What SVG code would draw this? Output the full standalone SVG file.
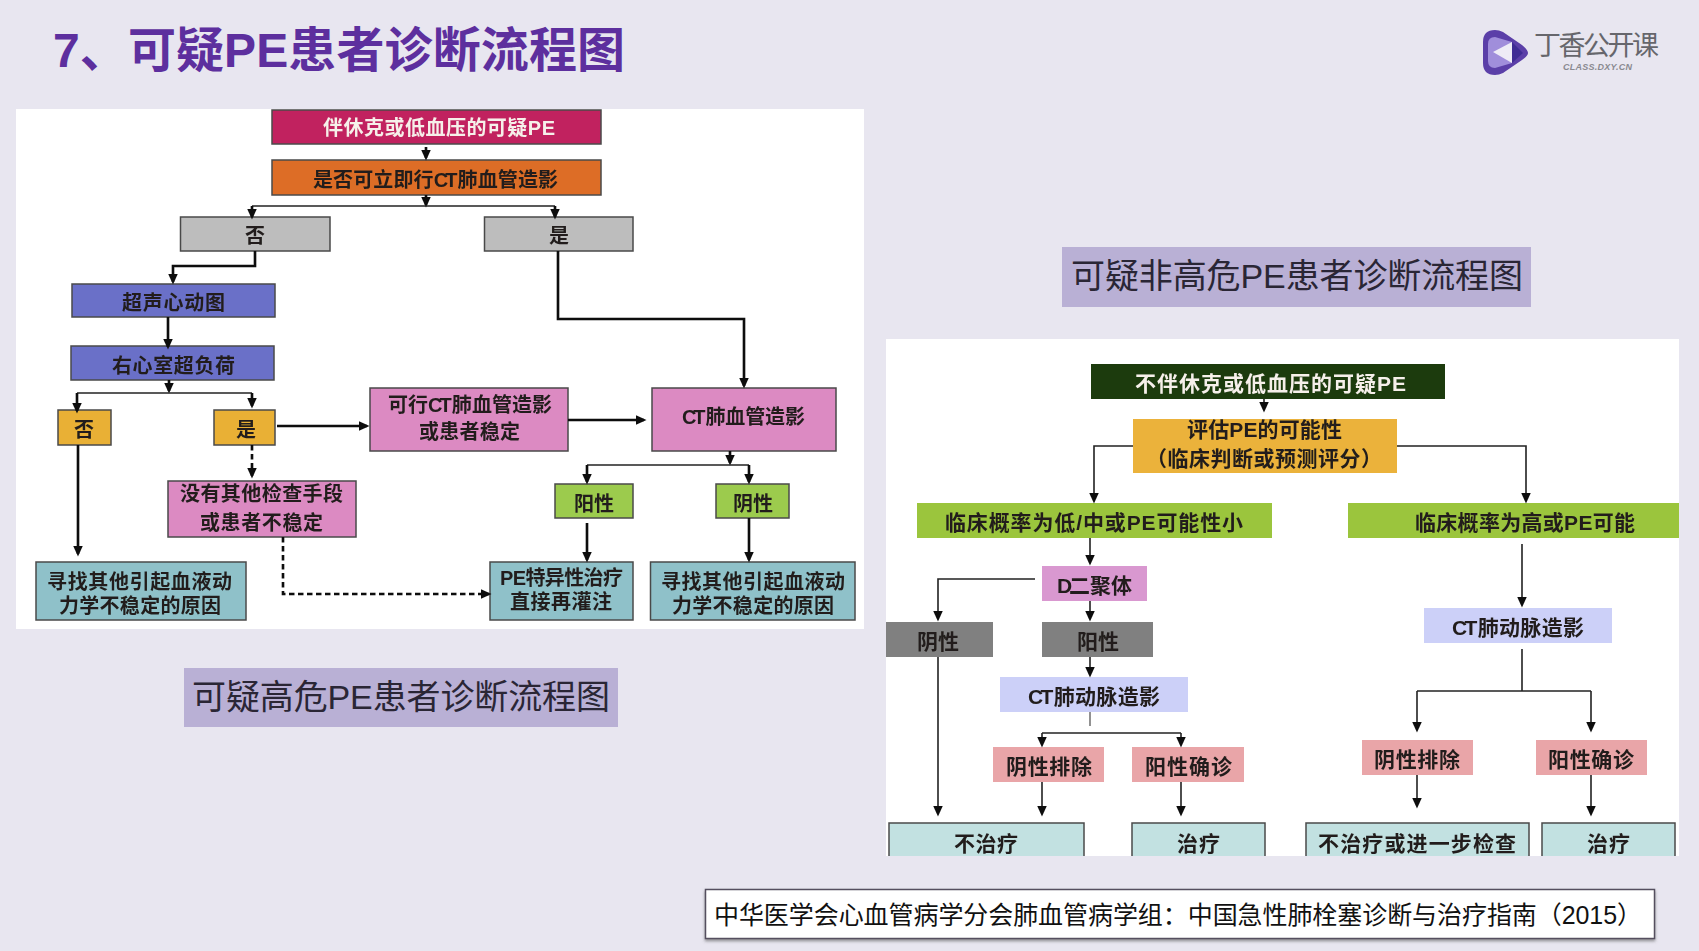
<svg xmlns="http://www.w3.org/2000/svg" width="1699" height="951" viewBox="0 0 1699 951">
<style>
text{font-family:"Liberation Sans","Noto Sans CJK SC","Noto Sans",sans-serif;fill:#221f1c;font-weight:700;font-size:20px}
.r text{font-size:21px}
.w{fill:#f6f0ea}
.cap{font-weight:400;font-size:34px;fill:#2a2635}
.box{stroke:#4a4a4a;stroke-width:1.5}
.c{fill:none;stroke:#111;stroke-width:2.6}
.t{fill:none;stroke:#222;stroke-width:1.6}
.d{fill:none;stroke:#111;stroke-width:2.6;stroke-dasharray:5.500 3.500}
.a{marker-end:url(#h)}
.ct{letter-spacing:-3px}
</style>
<defs>
<marker id="h" markerUnits="userSpaceOnUse" markerWidth="11" markerHeight="11" viewBox="0 0 11 11" refX="8.500" refY="5.500" orient="auto"><path d="M0 0.500L11 5.500L0 10.500Z" fill="#111"/></marker>
<filter id="soft" x="-2%" y="-2%" width="104%" height="104%"><feGaussianBlur stdDeviation="0.45"/></filter>
<filter id="sh" x="-2%" y="-10%" width="104%" height="125%"><feDropShadow dx="0" dy="2" stdDeviation="1.500" flood-color="#555" flood-opacity="0.6"/></filter>
</defs>
<rect width="1699" height="951" fill="#e8e6f0"/>
<text x="53" y="67" style="font-size:48px;fill:#5d2f9e" textLength="572">7、可疑PE患者诊断流程图</text>

<g id="logo">
<path d="M1483 42Q1483 30 1495 30Q1499 30 1503 32L1522 45Q1528 50 1528 53Q1528 56 1522 60L1503 73Q1499 75 1495 75Q1483 75 1483 63Z" fill="#5b3fa8"/>
<path d="M1488 44Q1488 37 1495 37L1512 42V63L1495 68Q1488 68 1488 61Z" fill="#a08edb"/>
<path d="M1512 42V63L1523 53Z" fill="#3f2c94"/>
<path d="M1493 52L1512 42V63Z" fill="#eeecf6"/>
<text x="1534" y="55" textLength="125" style="font-size:27px;font-weight:400;fill:#66666c">丁香公开课</text>
<text x="1563" y="70" textLength="69" style="font-size:9px;font-style:italic;fill:#8a8a90">CLASS.DXY.CN</text>
</g>

<rect id="panel-left" x="16" y="109" width="848" height="520" fill="#fff"/>
<rect id="panel-right" x="886" y="339" width="793" height="517" fill="#fff"/>

<g filter="url(#soft)">
<g id="left-nodes">
<g id="l1"><rect class="box" x="272" y="110" width="329" height="34" fill="#c1245f"/><text class="w" x="323" y="135" textLength="232">伴休克或低血压的可疑PE</text></g>
<g id="l2"><rect class="box" x="272" y="160" width="329" height="35" fill="#dd6d26"/><text x="313" y="187" textLength="245">是否可立即行<tspan class="ct">C</tspan>T肺血管造影</text></g>
<g id="l3"><rect class="box" x="180.500" y="217" width="149.500" height="34" fill="#bdbdbd"/><text x="245" y="243">否</text></g>
<g id="l4"><rect class="box" x="484.500" y="217" width="148.500" height="34" fill="#bdbdbd"/><text x="549" y="243">是</text></g>
<g id="l5"><rect class="box" x="72" y="284" width="203" height="33" fill="#6a6fc8"/><text x="122" y="310" textLength="103">超声心动图</text></g>
<g id="l6"><rect class="box" x="71" y="346" width="203" height="34" fill="#6a6fc8"/><text x="112" y="373" textLength="123">右心室超负荷</text></g>
<g id="l7"><rect class="box" x="58" y="410" width="53" height="35" fill="#e9b035"/><text x="74" y="437">否</text></g>
<g id="l8"><rect class="box" x="214" y="410" width="61" height="35" fill="#e9b035"/><text x="236" y="437">是</text></g>
<g id="l9"><rect class="box" x="168" y="481" width="188" height="56" fill="#dc8ac2"/><text x="180" y="501" textLength="163">没有其他检查手段</text><text x="200" y="530" textLength="123">或患者不稳定</text></g>
<g id="l10"><rect class="box" x="370" y="388" width="198" height="63" fill="#dc8ac2"/><text x="388" y="412" textLength="164">可行<tspan class="ct">C</tspan>T肺血管造影</text><text x="419" y="439" textLength="101">或患者稳定</text></g>
<g id="l11"><rect class="box" x="652" y="388" width="184" height="63" fill="#dc8ac2"/><text x="682" y="424" textLength="123"><tspan class="ct">C</tspan>T肺血管造影</text></g>
<g id="l12"><rect class="box" x="555" y="484" width="78" height="34" fill="#9ccb4e"/><text x="574" y="511" textLength="40">阳性</text></g>
<g id="l13"><rect class="box" x="716" y="484" width="73" height="34" fill="#9ccb4e"/><text x="733" y="511" textLength="40">阴性</text></g>
<g id="l14"><rect class="box" x="36" y="562" width="210" height="58" fill="#8fc1c9"/><text x="47" y="589" textLength="185">寻找其他引起血液动</text><text x="59" y="613" textLength="162">力学不稳定的原因</text></g>
<g id="l15"><rect class="box" x="490" y="562" width="143" height="58" fill="#8fc1c9"/><text x="500" y="585" textLength="123">PE特异性治疗</text><text x="510" y="609" textLength="102">直接再灌注</text></g>
<g id="l16"><rect class="box" x="650.500" y="562" width="204.500" height="58" fill="#8fc1c9"/><text x="661" y="589" textLength="184">寻找其他引起血液动</text><text x="672" y="613" textLength="162">力学不稳定的原因</text></g>
</g>
<g id="left-connectors">
<path class="c a" d="M426 147V158"/>
<path class="c a" d="M426 195V205"/>
<path class="t" d="M252 206H555"/>
<path class="c a" d="M252 206V217"/>
<path class="c a" d="M555 206V217"/>
<path class="c a" d="M255 251V266H173V282"/>
<path class="c a" d="M168 317V347"/>
<path class="c a" d="M169 380V391"/>
<path class="t" d="M77 393H252"/>
<path class="c a" d="M77 393V411"/>
<path class="c a" d="M252 393V406"/>
<path class="c a" d="M277 426H367"/>
<path class="d a" d="M252 445V476"/>
<path class="c a" d="M78 445V554"/>
<path class="d a" d="M283 537V594H489"/>
<path class="c a" d="M558 251V319H744V386"/>
<path class="c a" d="M568 420H644"/>
<path class="c a" d="M730 451V463"/>
<path class="t" d="M587 465H749"/>
<path class="c a" d="M587 465V482"/>
<path class="c a" d="M749 465V482"/>
<path class="c a" d="M587 523V560"/>
<path class="c a" d="M749 518V560"/>
</g>

<g id="right-nodes" class="r">
<g id="r1"><rect x="1091" y="364" width="354" height="35" fill="#1d3a10"/><text class="w" x="1135" y="391" textLength="271">不伴休克或低血压的可疑PE</text></g>
<g id="r2"><rect x="1133" y="419" width="264" height="54" fill="#ebb23a"/><text x="1187" y="437" textLength="155">评估PE的可能性</text><text x="1146" y="466" textLength="236">（临床判断或预测评分）</text></g>
<g id="r3"><rect x="917" y="503" width="355" height="35" fill="#9bc53d"/><text x="945" y="530" textLength="298">临床概率为低/中或PE可能性小</text></g>
<g id="r4"><rect x="1348" y="503" width="331" height="35" fill="#9bc53d"/><text x="1415" y="530" textLength="220">临床概率为高或PE可能</text></g>
<g id="r5"><rect x="1042" y="566" width="105" height="35" fill="#d998d0"/><text x="1057" y="593" textLength="75"><tspan class="ct">D</tspan>二聚体</text></g>
<g id="r6"><rect x="886" y="622" width="107" height="35" fill="#808080"/><text x="917" y="649" textLength="42">阴性</text></g>
<g id="r7"><rect x="1042" y="622" width="111" height="35" fill="#808080"/><text x="1077" y="649" textLength="42">阳性</text></g>
<g id="r8"><rect x="1000" y="677" width="188" height="35" fill="#ccd0f8"/><text x="1028" y="704" textLength="132"><tspan class="ct">C</tspan>T肺动脉造影</text></g>
<g id="r9"><rect x="993" y="747" width="111" height="35" fill="#e9a5a8"/><text x="1006" y="774" textLength="86">阴性排除</text></g>
<g id="r10"><rect x="1132" y="747" width="112" height="35" fill="#e9a5a8"/><text x="1145" y="774" textLength="87">阳性确诊</text></g>
<g id="r11"><path class="box" d="M889 856V823H1084V856" fill="#c2e1e1"/><text x="954" y="851" textLength="64">不治疗</text></g>
<g id="r12"><path class="box" d="M1132 856V823H1265V856" fill="#c2e1e1"/><text x="1177" y="851" textLength="43">治疗</text></g>
<g id="r13"><rect x="1424" y="608" width="188" height="35" fill="#ccd0f8"/><text x="1452" y="635" textLength="132"><tspan class="ct">C</tspan>T肺动脉造影</text></g>
<g id="r14"><rect x="1362" y="740" width="111" height="35" fill="#e9a5a8"/><text x="1374" y="767" textLength="86">阴性排除</text></g>
<g id="r15"><rect x="1536" y="740" width="111" height="35" fill="#e9a5a8"/><text x="1548" y="767" textLength="86">阳性确诊</text></g>
<g id="r16"><path class="box" d="M1306 856V823H1529V856" fill="#c2e1e1"/><text x="1318" y="851" textLength="198">不治疗或进一步检查</text></g>
<g id="r17"><path class="box" d="M1542 856V823H1675V856" fill="#c2e1e1"/><text x="1587" y="851" textLength="43">治疗</text></g>
</g>
<g id="right-connectors">
<path class="t a" d="M1264 399V410"/>
<path class="t a" d="M1133 446H1094V501"/>
<path class="t a" d="M1397 446H1526V501"/>
<path class="t a" d="M1090 538V563"/>
<path class="t a" d="M1035 579H938V619"/>
<path class="t a" d="M1090 601V619"/>
<path class="t a" d="M1090 657V675"/>
<path class="t" d="M1090 712V726" style="stroke:#777"/>
<path class="t a" d="M1042 733V745"/>
<path class="t a" d="M1181 733V745"/>
<path class="t" d="M1042 733H1181"/>
<path class="t a" d="M1042 782V814"/>
<path class="t a" d="M1181 782V814"/>
<path class="t a" d="M938 657V814"/>
<path class="t a" d="M1522 544V605"/>
<path class="t" d="M1522 649V691"/>
<path class="t" d="M1417 691H1591"/>
<path class="t a" d="M1417 691V730"/>
<path class="t a" d="M1591 691V730"/>
<path class="t a" d="M1417 775V806"/>
<path class="t a" d="M1591 775V814"/>
</g>
</g>

<g id="cap-right"><rect x="1062" y="247" width="469" height="60" fill="#b9b0d5"/><text class="cap" x="1071" y="288" textLength="452">可疑非高危PE患者诊断流程图</text></g>
<g id="cap-left"><rect x="184" y="668" width="434" height="59" fill="#b9b0d5"/><text class="cap" x="192" y="709" textLength="418">可疑高危PE患者诊断流程图</text></g>
<g id="citation"><rect x="705.500" y="889.500" width="949" height="49" fill="#fff" stroke="#55505f" stroke-width="1.500" filter="url(#sh)"/><text x="714" y="924" textLength="928" style="font-size:25px;font-weight:400;fill:#111">中华医学会心血管病学分会肺血管病学组：中国急性肺栓塞诊断与治疗指南（2015）</text></g>
</svg>
